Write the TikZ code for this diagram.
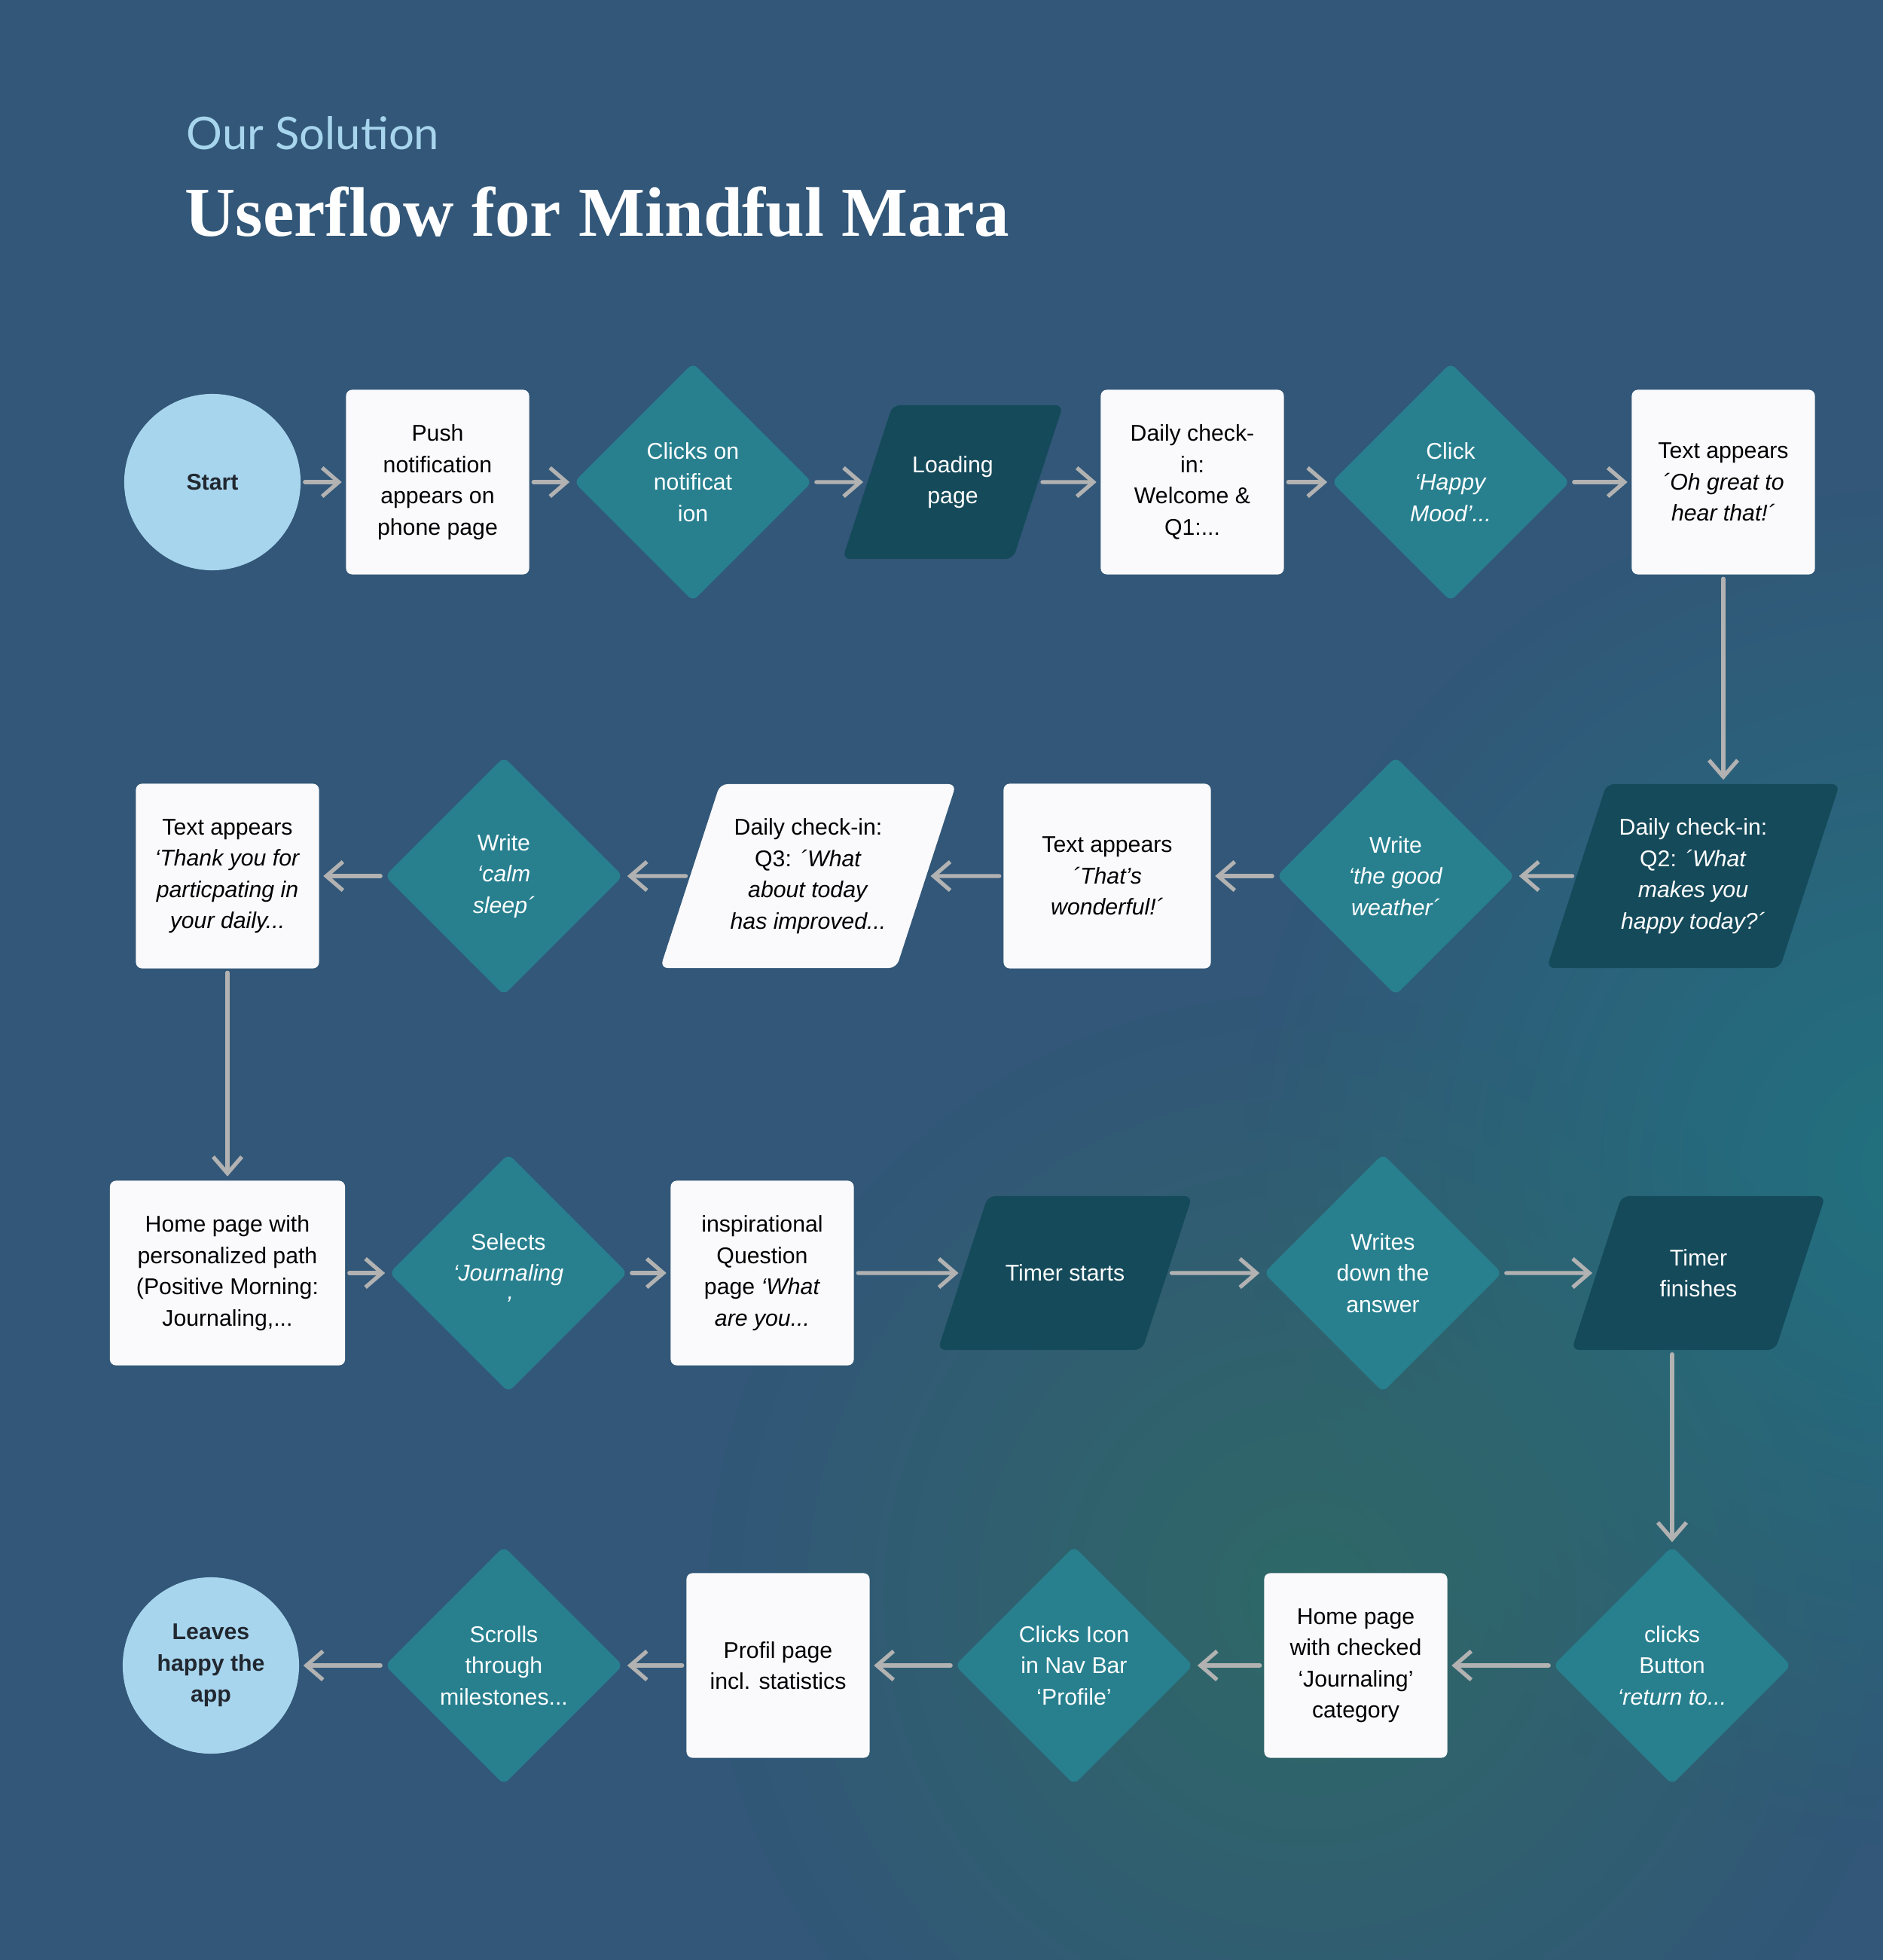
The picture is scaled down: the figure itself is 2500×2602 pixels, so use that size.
\documentclass[tikz,border=0pt]{standalone}
\usepackage{fontspec}
\setmainfont{Liberation Sans}
\newfontfamily\titlefont{Liberation Serif}
\newfontfamily\kickerfont{Lato}
\usetikzlibrary{arrows.meta,shapes.geometric,fadings}
\definecolor{mmbg}{RGB}{50,87,120}
\definecolor{mmglow}{RGB}{30,118,128}
\definecolor{mmgreen}{RGB}{46,108,100}
\definecolor{mmlight}{RGB}{168,213,238}
\definecolor{mmteal}{RGB}{40,128,143}
\definecolor{mmdark}{RGB}{21,74,90}
\definecolor{mmwhite}{RGB}{250,250,252}
\definecolor{mmarrow}{RGB}{178,178,178}
\definecolor{mmink}{RGB}{33,40,48}
\tikzfading[name=glowfade,inner color=transparent!15,outer color=transparent!100]
% body of a slanted screen node: width, height, text
\newcommand{\screentext}[3]{\parbox[c][#2][c]{#1}{\centering #3}}

\begin{document}
\begin{tikzpicture}[x=0.01cm,y=-0.01cm,
  every node/.style={font=\fontsize{8.6}{11.8}\selectfont,align=center},
  endpt/.style={circle,fill=mmlight,minimum size=2.34cm,inner sep=0pt,text=mmink,font=\fontsize{8.6}{11.8}\selectfont\bfseries},
  pagebox/.style={fill=mmwhite,rounded corners=0.08cm,minimum width=2.43cm,minimum height=2.45cm,inner sep=0pt,text=black},
  choicebox/.style={diamond,aspect=1,fill=mmteal,minimum width=3.16cm,minimum height=3.16cm,inner sep=0pt,rounded corners=0.08cm,text=white},
  screenbox/.style={trapezium,trapezium left angle=72,trapezium right angle=108,fill=mmdark,rounded corners=0.1cm,inner sep=0pt,text=white},
  flowarrow/.style={-{Straight Barb[length=2.2mm,width=3.8mm]},mmarrow,line width=1.5pt,line cap=round,shorten <=0.05cm,shorten >=0.05cm}]
  % Background
  \useasboundingbox (0,0) rectangle (2500,2602);
  \fill[mmbg] (0,0) rectangle (2500,2602);
  \begin{scope}
    \clip (0,0) rectangle (2500,2602);
    \fill[mmglow,path fading=glowfade] (2550,1550) circle (9cm);
    \fill[mmgreen,path fading=glowfade] (1740,2120) circle (8cm);
  \end{scope}
  % Heading
  \node[anchor=base west,inner sep=0pt,text=mmlight,font=\kickerfont\fontsize{17}{20}\selectfont] (kicker) at (247,198) {Our Solution};
  \node[anchor=base west,inner sep=0pt,text=white,font=\titlefont\bfseries\fontsize{26.5}{30}\selectfont] (title) at (245,313) {Userflow for Mindful Mara};
  % Row 1
  \node[endpt] (start) at (282,640) {Start};
  \node[pagebox] (push) at (581,640) {Push\\notification\\appears on\\phone page};
  \node[choicebox] (clicknote) at (920,640) {Clicks on\\notificat\\ion};
  \node[screenbox] (loading) at (1265,640) {\screentext{1.6cm}{2.04cm}{Loading\\page}};
  \node[pagebox] (checkin1) at (1583,640) {Daily check-\\in:\\Welcome \&\\Q1:...};
  \node[choicebox] (happy) at (1926,640) {Click\\\textit{‘Happy}\\\textit{Mood’...}};
  \node[pagebox] (greatto) at (2288,640) {Text appears\\\textit{´Oh great to}\\\textit{hear that!´}};
  \draw[flowarrow] (start) -- (push);
  \draw[flowarrow] (push) -- (clicknote);
  \draw[flowarrow] (clicknote) -- (loading);
  \draw[flowarrow] (loading) -- (checkin1);
  \draw[flowarrow] (checkin1) -- (happy);
  \draw[flowarrow] (happy) -- (greatto);
  % Row 2
  \node[screenbox] (checkin2) at (2248,1163) {\screentext{2.3cm}{2.44cm}{Daily check-in:\\Q2: \textit{´What}\\\textit{makes you}\\\textit{happy today?´}}};
  \node[choicebox] (weather) at (1853,1163) {Write\\\textit{‘the good}\\\textit{weather´}};
  \node[pagebox,minimum width=2.75cm] (wonderful) at (1470,1163) {Text appears\\\textit{´That’s}\\\textit{wonderful!´}};
  \node[screenbox,fill=mmwhite,text=black] (checkin3) at (1073,1163) {\screentext{2.34cm}{2.44cm}{Daily check-in:\\Q3: \textit{´What}\\\textit{about today}\\\textit{has improved...}}};
  \node[choicebox] (calm) at (669,1163) {Write\\\textit{‘calm}\\\textit{sleep´}};
  \node[pagebox] (thanks) at (302,1163) {Text appears\\\textit{‘Thank you for}\\\textit{particpating in}\\\textit{your daily...}};
  \draw[flowarrow] (greatto) -- (greatto |- checkin2.north);
  \draw[flowarrow] (checkin2) -- (weather);
  \draw[flowarrow] (weather) -- (wonderful);
  \draw[flowarrow] (wonderful) -- (checkin3);
  \draw[flowarrow] (checkin3) -- (calm);
  \draw[flowarrow] (calm) -- (thanks);
  % Row 3
  \node[pagebox,minimum width=3.12cm] (homepath) at (302,1690) {Home page with\\personalized path\\(Positive Morning:\\Journaling,...};
  \node[choicebox] (journal) at (675,1690) {Selects\\\textit{‘Journaling}\\\textit{’}};
  \node[pagebox] (question) at (1012,1690) {inspirational\\Question\\page \textit{‘What}\\\textit{are you...}};
  \node[screenbox] (timerstart) at (1414,1690) {\screentext{2.05cm}{2.04cm}{Timer starts}};
  \node[choicebox] (answer) at (1836,1690) {Writes\\down the\\answer};
  \node[screenbox] (timerend) at (2255,1690) {\screentext{2.04cm}{2.04cm}{Timer\\finishes}};
  \draw[flowarrow] (thanks) -- (homepath);
  \draw[flowarrow] (homepath) -- (journal);
  \draw[flowarrow] (journal) -- (question);
  \draw[flowarrow] (question) -- (timerstart);
  \draw[flowarrow] (timerstart) -- (answer);
  \draw[flowarrow] (answer) -- (timerend);
  % Row 4
  \node[choicebox] (button) at (2220,2211) {clicks\\Button\\\textit{‘return to...}};
  \node[pagebox] (homecheck) at (1800,2211) {Home page\\with checked\\‘Journaling’\\category};
  \node[choicebox] (navbar) at (1426,2211) {Clicks Icon\\in Nav Bar\\‘Profile’};
  \node[pagebox] (profile) at (1033,2211) {Profil page\\incl. statistics};
  \node[choicebox] (milestones) at (669,2211) {Scrolls\\through\\milestones...};
  \node[endpt] (leaves) at (280,2211) {Leaves\\happy the\\app};
  \draw[flowarrow] (timerend.south -| button.north) -- (button);
  \draw[flowarrow] (button) -- (homecheck);
  \draw[flowarrow] (homecheck) -- (navbar);
  \draw[flowarrow] (navbar) -- (profile);
  \draw[flowarrow] (profile) -- (milestones);
  \draw[flowarrow] (milestones) -- (leaves);
\end{tikzpicture}
\end{document}
